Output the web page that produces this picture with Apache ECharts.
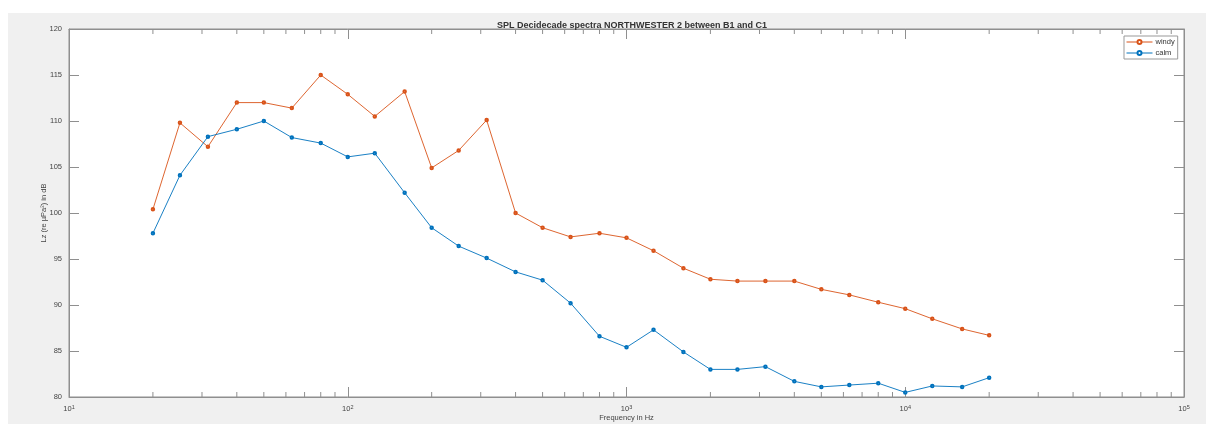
<!DOCTYPE html>
<html>
<head>
<meta charset="utf-8">
<script src="https://cdn.jsdelivr.net/npm/echarts@6/dist/echarts.min.js"></script>
<style>
  html, body { margin:0; padding:0; background:#ffffff; }
  #bg { position:absolute; left:8px; top:13px; width:1198px; height:411px; background:#f0f0f0; }
  #chart { position:absolute; left:0; top:0; width:1206px; height:424px; }
</style>
</head>
<body>
<div id="bg"></div>
<div id="chart"></div>
<script>
// Decidecade band centre frequencies (Hz)
const frequencies = [20, 25, 31.5, 40, 50, 63, 80, 100, 125, 160, 200, 250, 315, 400, 500, 630, 800,
  1000, 1250, 1600, 2000, 2500, 3150, 4000, 5000, 6300, 8000, 10000, 12500, 16000, 20000];
// SPL values in dB
const windy = [100.4, 109.8, 107.2, 112.0, 112.0, 111.4, 115.0, 112.9, 110.5, 113.2, 104.9, 106.8, 110.1,
  100.0, 98.4, 97.4, 97.8, 97.3, 95.9, 94.0, 92.8, 92.6, 92.6, 92.6, 91.7, 91.1, 90.3, 89.6, 88.5, 87.4, 86.7];
const calm = [97.8, 104.1, 108.3, 109.1, 110.0, 108.2, 107.6, 106.1, 106.5, 102.2, 98.4, 96.4, 95.1,
  93.6, 92.7, 90.2, 86.6, 85.4, 87.3, 84.9, 83.0, 83.0, 83.3, 81.7, 81.1, 81.3, 81.5, 80.5, 81.2, 81.1, 82.1];
const seriesNames = ['windy', 'calm'];
const titleText = 'SPL Decidecade spectra NORTHWESTER 2 between B1 and C1';
const xName = 'Frequency in Hz';
const yName = 'Lz (re µPa²) in dB';
const xMin = 10, xMax = 100000, yMin = 80, yMax = 120, yStep = 5;
// minor ticks of the log frequency axis
const minorTicks = [20,30,40,50,60,70,80,90, 200,300,400,500,600,700,800,900,
  2000,3000,4000,5000,6000,7000,8000,9000, 20000,30000,40000,50000,60000,70000,80000,90000];

const axisColor = '#8f8f8f';
const chart = echarts.init(document.getElementById('chart'));

const xCommon = {
  type: 'log', logBase: 10, min: xMin, max: xMax,
  axisLine: { show: true, lineStyle: { color: axisColor, width: 1 } },
  axisTick: { show: true, inside: true, length: 10, lineStyle: { color: axisColor } },
  splitLine: { show: false }, minorTick: { show: false }
};
const yCommon = {
  type: 'value', min: yMin, max: yMax, interval: yStep,
  axisLine: { show: true, lineStyle: { color: axisColor, width: 1 } },
  axisTick: { show: true, inside: true, length: 10, lineStyle: { color: axisColor } },
  splitLine: { show: false }
};

chart.setOption({
  animation: false,
  backgroundColor: 'transparent',
  textStyle: { fontFamily: 'Liberation Sans, Arial, sans-serif' },
  title: {
    text: titleText, left: 627, top: 16, textAlign: 'center',
    textStyle: { fontSize: 9, fontWeight: 'bold', color: '#333' }
  },
  legend: {
    data: seriesNames, orient: 'vertical', left: 1124, top: 36,
    itemWidth: 26, itemHeight: 5, itemGap: 3,
    padding: [2, 3, 2, 2],
    borderColor: '#999', borderWidth: 1, backgroundColor: '#fff',
    lineStyle: { width: 1 },
    itemStyle: { borderWidth: 0.8 },
    textStyle: { fontSize: 7.5, color: '#333', padding: [0, 0, 0, -2] }
  },
  grid: {
    left: 69, right: 22, top: 29, bottom: 27, show: true,
    containLabel: false, outerBoundsMode: 'none',
    backgroundColor: '#ffffff', borderColor: axisColor, borderWidth: 1
  },
  xAxis: [
    Object.assign({}, xCommon, {
      position: 'bottom',
      name: xName, nameLocation: 'middle', nameGap: 17, nameMoveOverlap: false,
      nameTextStyle: { fontSize: 7.5, color: '#444' },
      axisLabel: {
        show: true, margin: 7, color: '#444',
        formatter: function (v) {
          const e = Math.round(Math.log10(v));
          return '{b|10}{s|' + e + '}';
        },
        rich: {
          b: { fontSize: 7.5, color: '#444' },
          s: { fontSize: 5.5, color: '#444', verticalAlign: 'top', padding: [0, 0, 4, 0] }
        }
      }
    }),
    Object.assign({}, xCommon, { position: 'top', axisLabel: { show: false } })
  ],
  yAxis: [
    Object.assign({}, yCommon, {
      position: 'left',
      name: yName, nameLocation: 'middle', nameGap: 21, nameMoveOverlap: false,
      nameTextStyle: { fontSize: 7.5, color: '#444' },
      axisLabel: { show: true, fontSize: 7.5, color: '#444', margin: 7 }
    }),
    Object.assign({}, yCommon, { position: 'right', axisLabel: { show: false } })
  ],
  series: [
    {
      name: seriesNames[0], type: 'line', xAxisIndex: 0, yAxisIndex: 0,
      data: frequencies.map((f, i) => [f, windy[i]]),
      color: '#D95319',
      lineStyle: { width: 0.9, color: '#D95319' },
      symbol: 'emptyCircle', symbolSize: 2.5,
      itemStyle: { color: '#D95319', borderWidth: 0.7 }
    },
    {
      name: seriesNames[1], type: 'line', xAxisIndex: 0, yAxisIndex: 0,
      data: frequencies.map((f, i) => [f, calm[i]]),
      color: '#0072BD',
      lineStyle: { width: 0.9, color: '#0072BD' },
      symbol: 'emptyCircle', symbolSize: 2.5,
      itemStyle: { color: '#0072BD', borderWidth: 0.7 }
    },
    {
      type: 'custom', xAxisIndex: 0, yAxisIndex: 0, silent: true, clip: false,
      data: minorTicks.map(v => [v]),
      encode: { x: 0 },
      renderItem: function (params, api) {
        const v = api.value(0);
        const b = api.coord([v, yMin]);
        const t = api.coord([v, yMax]);
        const st = { stroke: axisColor, lineWidth: 1 };
        return {
          type: 'group',
          children: [
            { type: 'line', shape: { x1: b[0], y1: b[1], x2: b[0], y2: b[1] - 5 }, style: st },
            { type: 'line', shape: { x1: t[0], y1: t[1], x2: t[0], y2: t[1] + 5 }, style: st }
          ]
        };
      }
    }
  ]
});
</script>
</body>
</html>
